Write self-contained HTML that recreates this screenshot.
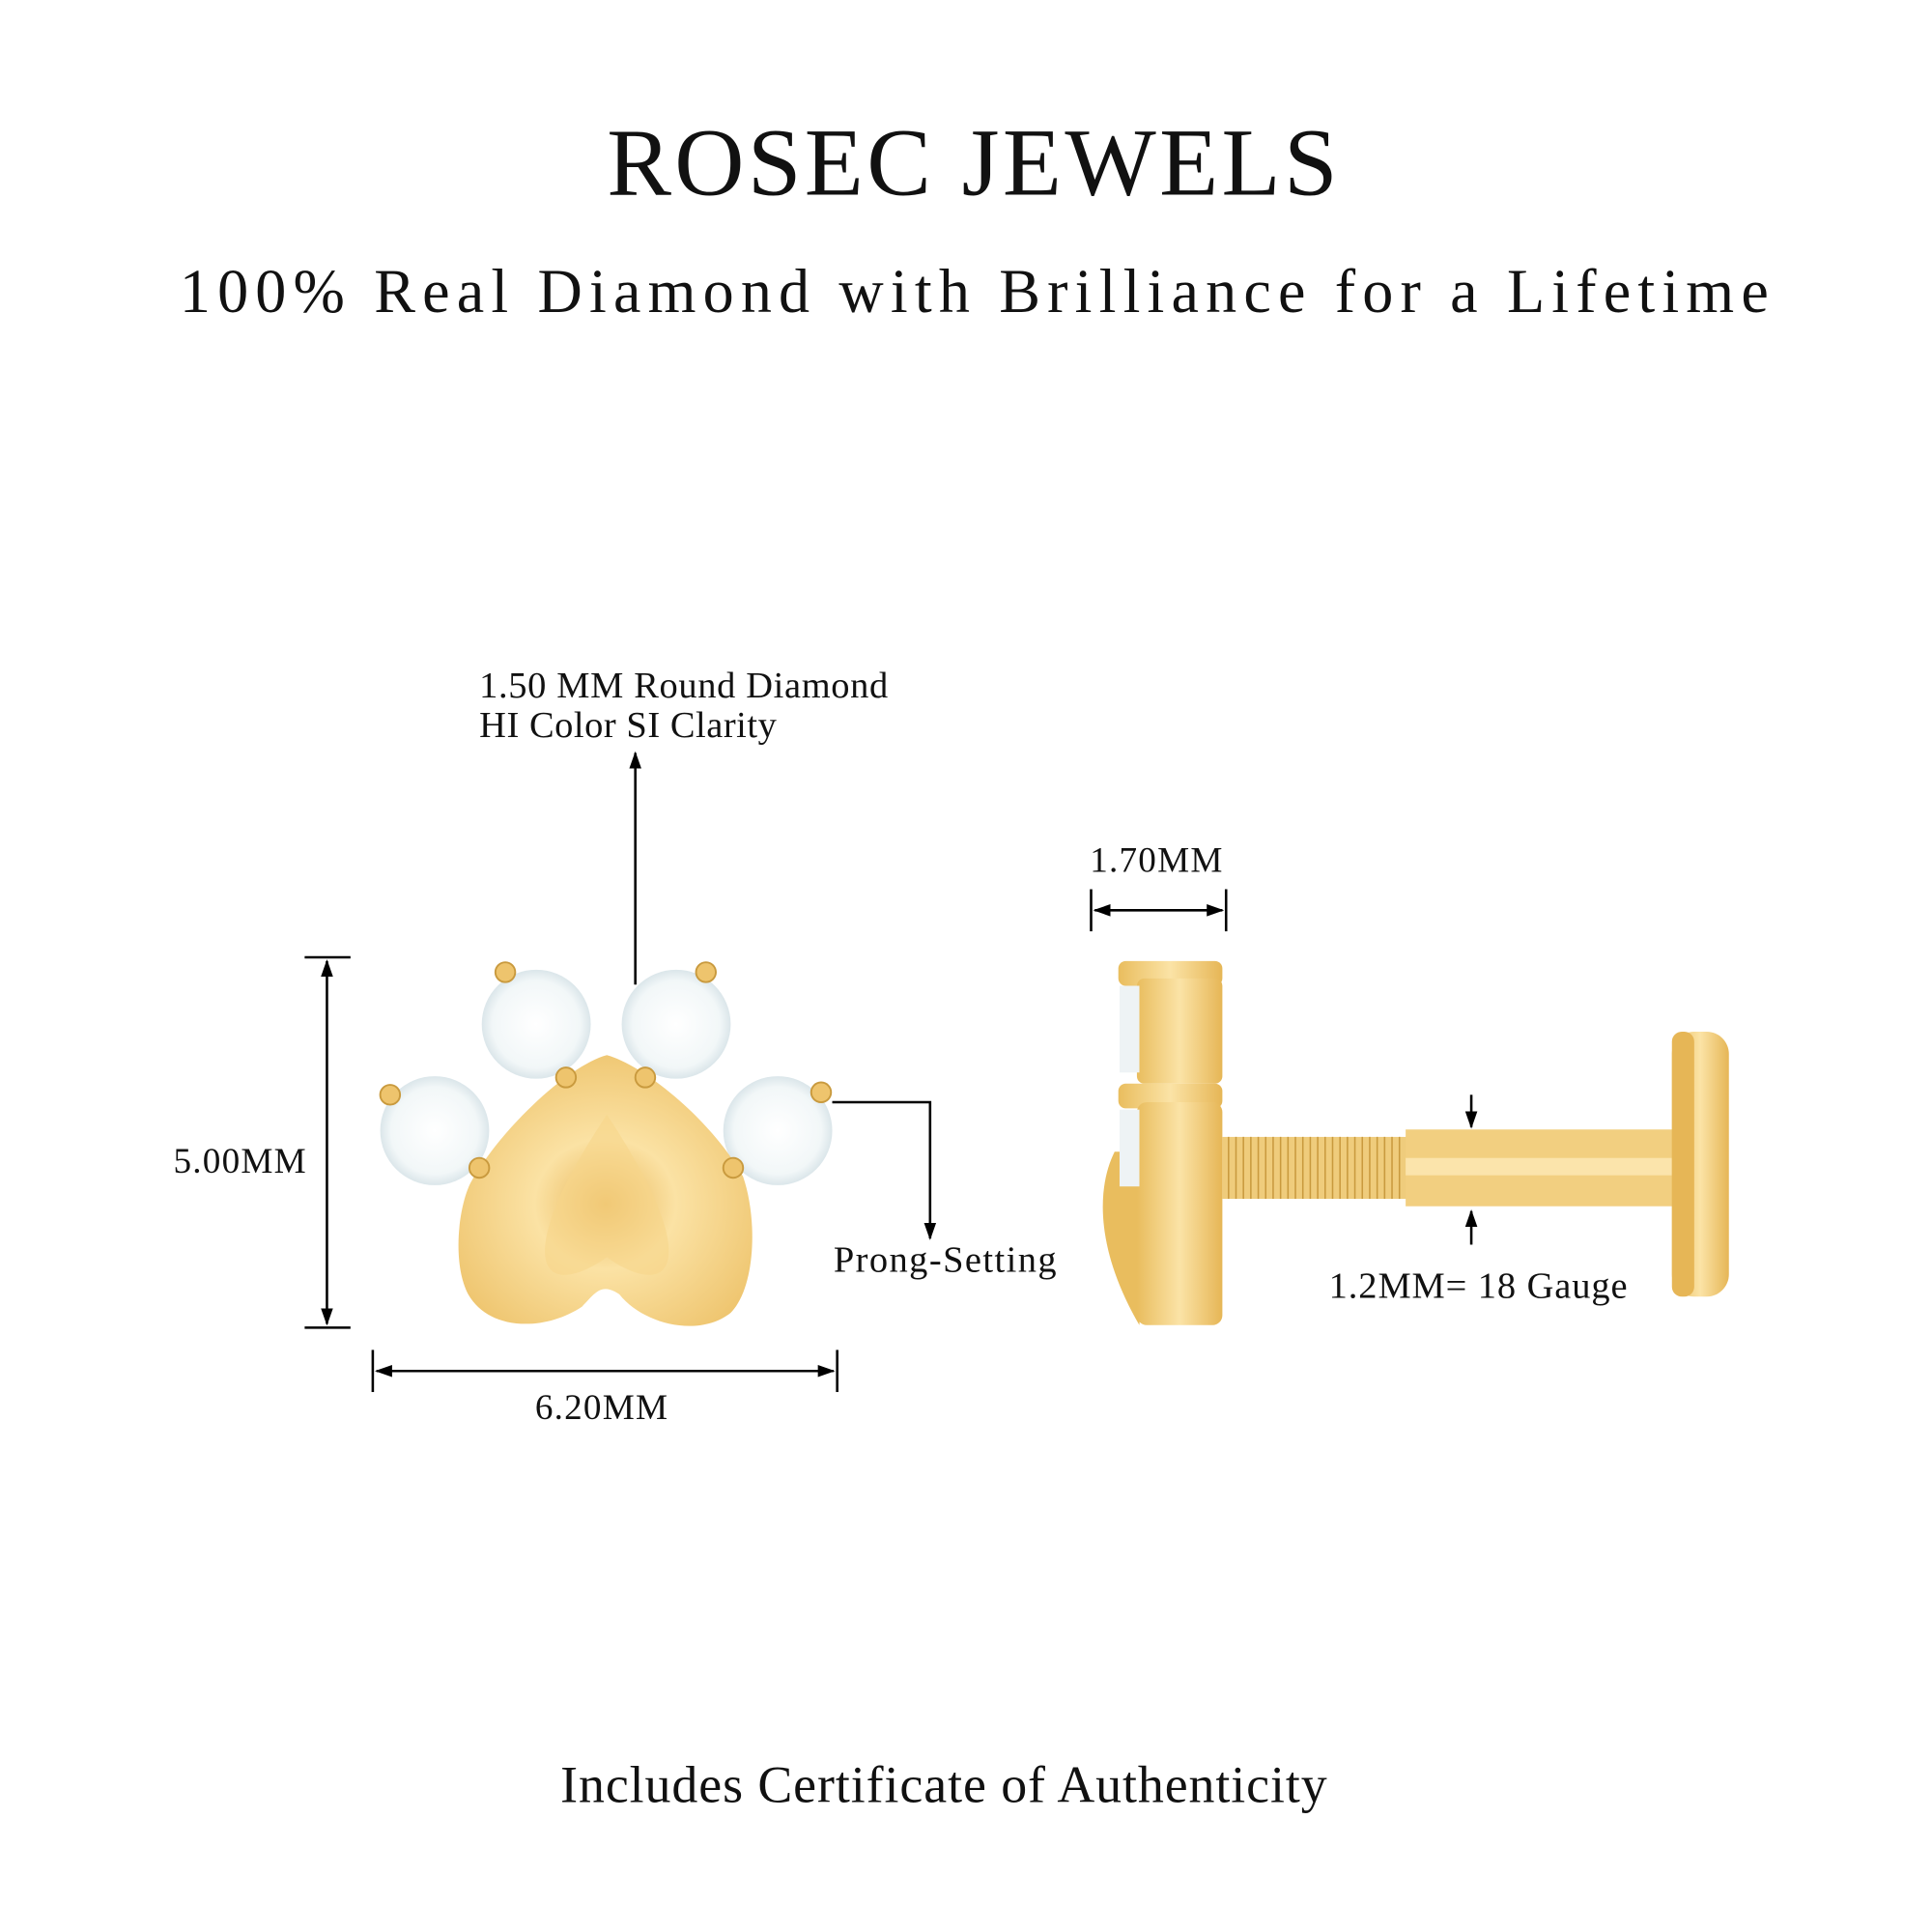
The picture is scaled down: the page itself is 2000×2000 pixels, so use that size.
<!DOCTYPE html>
<html><head><meta charset="utf-8"><style>
html,body{margin:0;padding:0;background:#fff}
svg{display:block}
text{font-family:"Liberation Serif",serif;fill:#111}
</style></head><body>
<svg width="2000" height="2000" viewBox="0 0 1560 1560" xmlns="http://www.w3.org/2000/svg">
<defs>
<linearGradient id="g" x1="0" y1="0" x2="1" y2="0">
<stop offset="0" stop-color="#e9bd5e"/><stop offset="0.5" stop-color="#fbe3a6"/><stop offset="1" stop-color="#e6b656"/>
</linearGradient>
<radialGradient id="h" cx="0.5" cy="0.55" r="0.6">
<stop offset="0" stop-color="#e8b658"/><stop offset="0.4" stop-color="#fbe2a4"/><stop offset="1" stop-color="#eec46d"/>
</radialGradient>
<radialGradient id="d" cx="0.5" cy="0.5" r="0.5">
<stop offset="0" stop-color="#ffffff"/><stop offset="0.8" stop-color="#f2f7f8"/><stop offset="1" stop-color="#dbe6ea"/>
</radialGradient>
<marker id="a" viewBox="0 0 10 10" refX="9" refY="5" markerWidth="7" markerHeight="7" orient="auto-start-reverse"><path d="M0,1.5 L10,5 L0,8.5 z" fill="#000"/></marker>
</defs>
<text x="490" y="157" font-size="78" textLength="590">ROSEC JEWELS</text>
<text x="145" y="252" font-size="50" textLength="1283">100% Real Diamond with Brilliance for a Lifetime</text>

<text x="387" y="563" font-size="30" textLength="330">1.50 MM Round Diamond</text>
<text x="387" y="595" font-size="30" textLength="240">HI Color SI Clarity</text>
<line x1="513" y1="795" x2="513" y2="608" stroke="#000" stroke-width="2" marker-end="url(#a)"/>

<circle cx="433" cy="827" r="44" fill="url(#d)"/>
<circle cx="546" cy="827" r="44" fill="url(#d)"/>
<circle cx="351" cy="913" r="44" fill="url(#d)"/>
<circle cx="628" cy="913" r="44" fill="url(#d)"/>
<path d="M490,852 C520,860 575,905 600,950 C612,985 610,1040 590,1060 C565,1080 520,1070 500,1045 C485,1035 480,1045 470,1055 C440,1075 395,1075 378,1045 C365,1020 370,975 380,955 C405,910 460,860 490,852 Z" fill="url(#h)"/>
<path d="M490,900 C470,930 440,980 440,1010 C440,1040 470,1030 490,1015 C510,1030 540,1040 540,1010 C540,980 510,930 490,900Z" fill="#f7d68a" opacity="0.6"/>
<g fill="#eec46d" stroke="#c99a3e" stroke-width="1.5">
<circle cx="408" cy="785" r="8"/><circle cx="570" cy="785" r="8"/>
<circle cx="315" cy="884" r="8"/><circle cx="663" cy="882" r="8"/>
<circle cx="457" cy="870" r="8"/><circle cx="521" cy="870" r="8"/>
<circle cx="387" cy="943" r="8"/><circle cx="592" cy="943" r="8"/>
</g>
<polyline points="672,890 751,890 751,1000" fill="none" stroke="#000" stroke-width="2" marker-end="url(#a)"/>
<text x="673" y="1027" font-size="30" textLength="180">Prong-Setting</text>

<line x1="246" y1="773" x2="283" y2="773" stroke="#000" stroke-width="2"/>
<line x1="246" y1="1072" x2="283" y2="1072" stroke="#000" stroke-width="2"/>
<line x1="264" y1="776" x2="264" y2="1069" stroke="#000" stroke-width="2" marker-start="url(#a)" marker-end="url(#a)"/>
<text x="140" y="947" font-size="29" textLength="107">5.00MM</text>
<line x1="301" y1="1090" x2="301" y2="1124" stroke="#000" stroke-width="2"/>
<line x1="676" y1="1090" x2="676" y2="1124" stroke="#000" stroke-width="2"/>
<line x1="304" y1="1107" x2="673" y2="1107" stroke="#000" stroke-width="2" marker-start="url(#a)" marker-end="url(#a)"/>
<text x="432" y="1146" font-size="29" textLength="107">6.20MM</text>

<text x="880" y="704" font-size="29" textLength="107">1.70MM</text>
<line x1="881" y1="718" x2="881" y2="752" stroke="#000" stroke-width="2"/>
<line x1="990" y1="718" x2="990" y2="752" stroke="#000" stroke-width="2"/>
<line x1="884" y1="735" x2="987" y2="735" stroke="#000" stroke-width="2" marker-start="url(#a)" marker-end="url(#a)"/>
<path d="M900,930 C885,960 885,1010 920,1070 L925,930Z" fill="#e9bd5e"/>
<rect x="903" y="776" width="84" height="20" rx="6" fill="url(#g)"/>
<rect x="918" y="790" width="69" height="85" rx="6" fill="url(#g)"/>
<rect x="903" y="875" width="84" height="20" rx="6" fill="url(#g)"/>
<rect x="918" y="890" width="69" height="180" rx="8" fill="url(#g)"/>
<rect x="904" y="796" width="16" height="70" fill="#eef3f5"/>
<rect x="904" y="896" width="16" height="62" fill="#eef3f5"/>
<rect x="987" y="918" width="150" height="50" fill="#efcc7c"/>
<g stroke="#c99a3e" stroke-width="1.2">
<path d="M992,918v50M998,918v50M1004,918v50M1010,918v50M1016,918v50M1022,918v50M1028,918v50M1034,918v50M1040,918v50M1046,918v50M1052,918v50M1058,918v50M1064,918v50M1070,918v50M1076,918v50M1082,918v50M1088,918v50M1094,918v50M1100,918v50M1106,918v50M1112,918v50M1118,918v50M1124,918v50M1130,918v50"/>
</g>
<rect x="1135" y="912" width="225" height="62" fill="#f2cf80"/>
<rect x="1135" y="935" width="225" height="14" fill="#fbe4ab"/>
<rect x="1350" y="833" width="46" height="214" rx="18" fill="url(#g)"/>
<rect x="1350" y="833" width="18" height="214" rx="8" fill="#e6b656"/>
<line x1="1188" y1="884" x2="1188" y2="910" stroke="#000" stroke-width="2" marker-end="url(#a)"/>
<line x1="1188" y1="1005" x2="1188" y2="978" stroke="#000" stroke-width="2" marker-end="url(#a)"/>
<text x="1073" y="1048" font-size="30" textLength="241">1.2MM=  18 Gauge</text>

<text x="762" y="1455" font-size="42" text-anchor="middle" textLength="619">Includes Certificate of Authenticity</text>
</svg>
</body></html>
